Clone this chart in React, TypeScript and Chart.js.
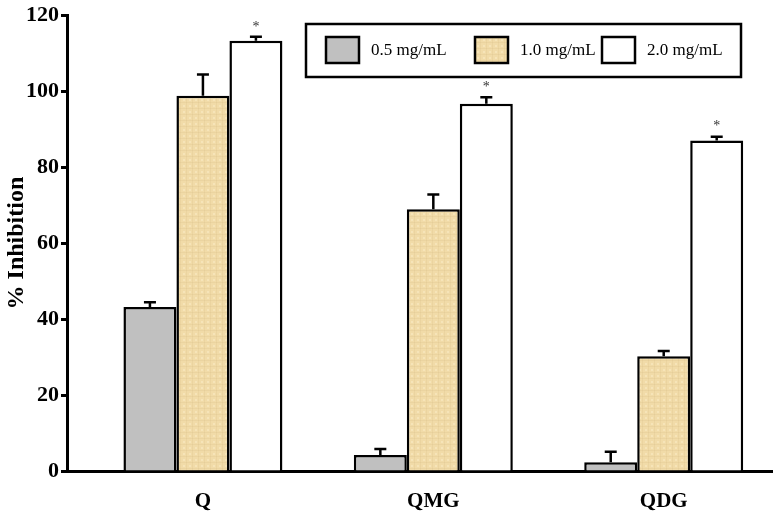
import React, { useEffect, useRef } from "react";
import { Chart, registerables } from "chart.js";

Chart.register(...registerables);

const categories = ["Q", "QMG", "QDG"];
const seriesLabels = ["0.5 mg/mL", "1.0 mg/mL", "2.0 mg/mL"];
const low = [43.2, 4.2, 2.3];
const mid = [98.8, 68.9, 30.2];
const high = [113.3, 96.7, 87.0];
const lowErr = [1.2, 1.6, 2.8];
const midErr = [5.6, 3.9, 1.4];
const highErr = [1.0, 1.7, 1.0];
const starred = [true, true, true];

const FONT = "'Liberation Serif', 'Times New Roman', serif";

function paperPattern(): CanvasPattern | string {
  const c = document.createElement("canvas");
  c.width = 6;
  c.height = 6;
  const g = c.getContext("2d");
  if (!g) return "#f0d9a5";
  g.fillStyle = "#f1dba8";
  g.fillRect(0, 0, 6, 6);
  g.fillStyle = "rgba(200,170,110,0.13)";
  g.fillRect(0, 0, 6, 1);
  g.fillRect(0, 0, 1, 6);
  g.fillStyle = "rgba(255,245,215,0.35)";
  g.fillRect(3, 3, 2, 2);
  return g.createPattern(c, "repeat") || "#f0d9a5";
}

const App = () => {
  const chartRef = useRef<HTMLCanvasElement | null>(null);
  const chartInstance = useRef<Chart | null>(null);

  useEffect(() => {
    document.body.style.margin = "0";
    if (chartInstance.current) chartInstance.current.destroy();
    const ctx = chartRef.current?.getContext("2d");
    if (!ctx) return;

    const fills = ["#c0c0c0", paperPattern(), "#ffffff"];
    const values = [low, mid, high];
    const errors = [lowErr, midErr, highErr];

    const errorBars = {
      id: "errorBars",
      afterDatasetsDraw(chart: Chart) {
        const c = chart.ctx;
        const y = chart.scales.y;
        c.save();
        c.strokeStyle = "#000";
        c.lineWidth = 2.5;
        values.forEach((vals, i) => {
          const meta = chart.getDatasetMeta(i);
          vals.forEach((v, j) => {
            const bar: any = meta.data[j];
            const top = y.getPixelForValue(v);
            const cap = y.getPixelForValue(v + errors[i][j]);
            c.beginPath();
            c.moveTo(bar.x, top);
            c.lineTo(bar.x, cap);
            c.moveTo(bar.x - 6, cap);
            c.lineTo(bar.x + 6, cap);
            c.stroke();
            if (i === 2 && starred[j]) {
              c.fillStyle = "#333";
              c.font = `14px ${FONT}`;
              c.textAlign = "center";
              c.textBaseline = "middle";
              c.fillText("*", bar.x, cap - 10);
            }
          });
        });
        c.restore();
      },
    };

    const boxLegend = {
      id: "boxLegend",
      afterDraw(chart: Chart) {
        const c = chart.ctx;
        c.save();
        c.fillStyle = "#fff";
        c.fillRect(306, 24, 435, 53);
        c.strokeStyle = "#000";
        c.lineWidth = 2.5;
        c.strokeRect(306, 24, 435, 53);
        const xs = [326, 475, 602];
        seriesLabels.forEach((label, i) => {
          c.fillStyle = fills[i] as any;
          c.fillRect(xs[i], 37, 33, 26);
          c.lineWidth = 2.5;
          c.strokeRect(xs[i], 37, 33, 26);
          c.fillStyle = "#000";
          c.font = `17px ${FONT}`;
          c.textAlign = "left";
          c.textBaseline = "middle";
          c.fillText(label, xs[i] + 45, 51);
        });
        c.restore();
      },
    };

    chartInstance.current = new Chart(ctx, {
      type: "bar",
      data: {
        datasets: values.map((vals, i) => ({
          label: seriesLabels[i],
          data: vals.map((v, j) => ({ x: j, y: v })),
          backgroundColor: fills[i] as any,
          borderColor: "#000",
          borderWidth: 2.5,
          categoryPercentage: 0.69,
          barPercentage: 1,
        })),
      },
      options: {
        responsive: false,
        animation: false,
        layout: { padding: { top: 12, right: 2, bottom: 0, left: 0 } },
        plugins: {
          legend: { display: false },
          tooltip: { enabled: false },
        },
        scales: {
          x: {
            type: "linear",
            offset: false,
            min: -0.59,
            max: 2.47,
            afterBuildTicks: (scale: any) => {
              scale.ticks = categories.map((_, i) => ({ value: i }));
            },
            afterFit: (scale: any) => {
              scale.height = 45;
            },
            grid: { display: false, drawTicks: false },
            border: { display: true, color: "#000", width: 3 },
            ticks: {
              color: "#000",
              padding: 18,
              font: { family: FONT, size: 21, weight: "bold" },
              callback: (v: any) => categories[v] ?? "",
            },
          },
          y: {
            min: 0,
            max: 120,
            afterFit: (scale: any) => {
              scale.width = 67;
            },
            grid: {
              drawOnChartArea: false,
              drawTicks: true,
              tickLength: 6,
              tickColor: "#000",
              tickWidth: 3,
            },
            border: { display: true, color: "#000", width: 3 },
            ticks: {
              stepSize: 20,
              color: "#000",
              padding: 2,
              font: { family: FONT, size: 22, weight: "bold" },
            },
            title: {
              display: true,
              text: "% Inhibition",
              color: "#000",
              padding: { top: 2, bottom: 0 },
              font: { family: FONT, size: 24, weight: "bold" },
            },
          },
        },
      },
      plugins: [errorBars, boxLegend],
    });

    return () => {
      if (chartInstance.current) chartInstance.current.destroy();
      chartInstance.current = null;
    };
  }, []);

  return (
    <div style={{ width: 774, height: 516, background: "#fff" }}>
      <canvas ref={chartRef} width={774} height={516}></canvas>
    </div>
  );
};

export default App;
